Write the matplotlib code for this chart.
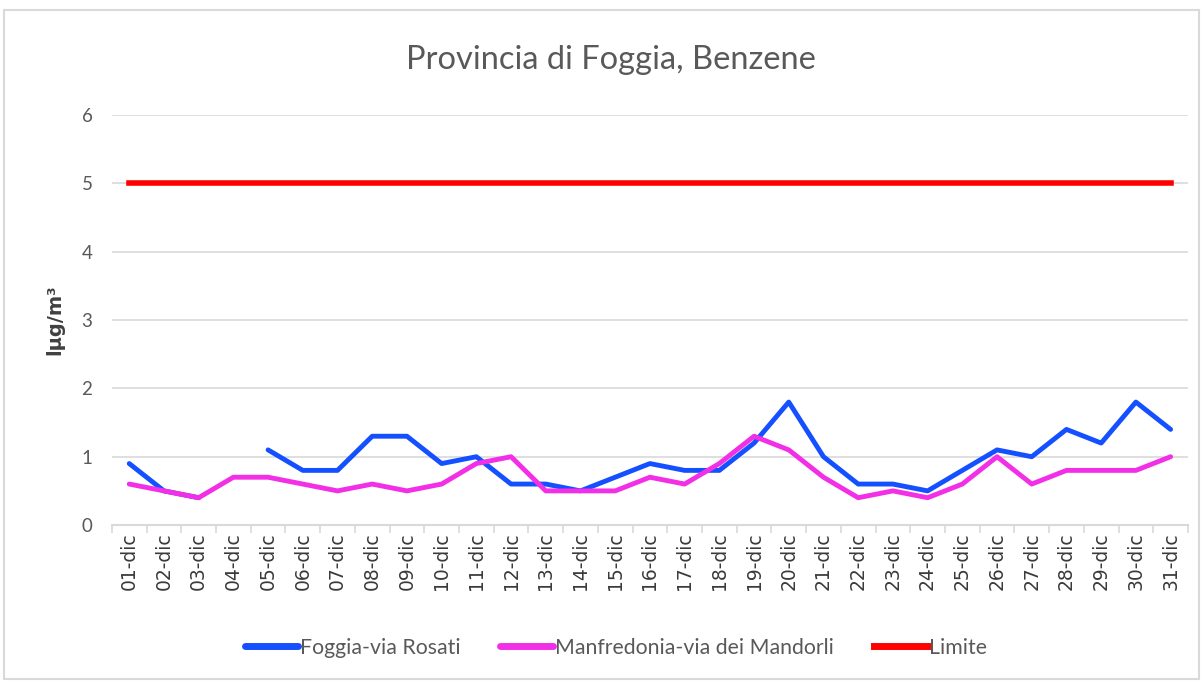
import numpy as np
from matplotlib import pyplot as plt
from matplotlib.patches import Rectangle

# Benzene, Provincia di Foggia, dicembre
days = ['%02d-dic' % d for d in range(1, 32)]
foggia = [0.9, 0.5, 0.4, np.nan, 1.1, 0.8, 0.8, 1.3, 1.3, 0.9, 1.0, 0.6, 0.6, 0.5, 0.7, 0.9,
          0.8, 0.8, 1.2, 1.8, 1.0, 0.6, 0.6, 0.5, 0.8, 1.1, 1.0, 1.4, 1.2, 1.8, 1.4]
manfredonia = [0.6, 0.5, 0.4, 0.7, 0.7, 0.6, 0.5, 0.6, 0.5, 0.6, 0.9, 1.0, 0.5, 0.5, 0.5, 0.7,
               0.6, 0.9, 1.3, 1.1, 0.7, 0.4, 0.5, 0.4, 0.6, 1.0, 0.6, 0.8, 0.8, 0.8, 1.0]
limite = [5] * 31

plt.rcParams['font.family'] = ['Lato', 'DejaVu Sans']

fig = plt.figure(figsize=(12.03, 6.81), dpi=100)
ax = fig.add_axes([0.093, 0.229, 0.8945, 0.602])

x = np.arange(len(days))
ax.plot(x, foggia, color='#1450ff', lw=3.5, label='Foggia-via Rosati', solid_capstyle='round')
ax.plot(x, manfredonia, color='#f22ee6', lw=3.5, label='Manfredonia-via dei Mandorli', solid_capstyle='round')
ax.plot(x, limite, color='#ff0000', lw=4, label='Limite')

ax.set_xlim(-0.5, 30.5)
ax.set_ylim(0, 6)
ax.set_yticks(range(7))
ax.grid(axis='y', color='#d9d9d9', lw=1.2)
ax.set_axisbelow(True)
for s in ['top', 'right', 'left']:
    ax.spines[s].set_visible(False)
ax.spines['bottom'].set_color('#d9d9d9')
ax.spines['bottom'].set_linewidth(1.5)

ax.set_xticks(np.arange(-0.5, 31, 1))
ax.set_xticklabels([])
ax.set_xticks(x, minor=True)
ax.set_xticklabels(days, minor=True, rotation=90, fontsize=13.5, color='#3a3a3a',
                   family=['DejaVu Sans'])
ax.tick_params(axis='x', which='major', length=6, color='#d9d9d9', width=1.2)
ax.tick_params(axis='x', which='minor', length=0, pad=5)
ax.tick_params(axis='y', length=0, labelsize=13.5, labelcolor='#595959', pad=14)

ax.set_ylabel('lμg/m³', fontsize=14, fontweight='bold', color='#404040', labelpad=12,
              family=['DejaVu Sans'])
fig.text(0.508, 0.912, 'Provincia di Foggia, Benzene', fontsize=23.5, color='#595959',
         ha='center', va='center')

leg = fig.legend(loc='center', bbox_to_anchor=(0.512, 0.049), ncol=3, frameon=False,
                 fontsize=15.3, labelcolor='#595959', handlelength=2.5, handletextpad=0.1,
                 columnspacing=1.85)
for h in leg.legend_handles:
    h.set_linewidth(5)

fig.patches.append(Rectangle((0.003, 0.003), 0.994, 0.982, transform=fig.transFigure,
                             fill=False, edgecolor='#d9d9d9', lw=1.5))

fig.savefig('out.png', dpi=100)
